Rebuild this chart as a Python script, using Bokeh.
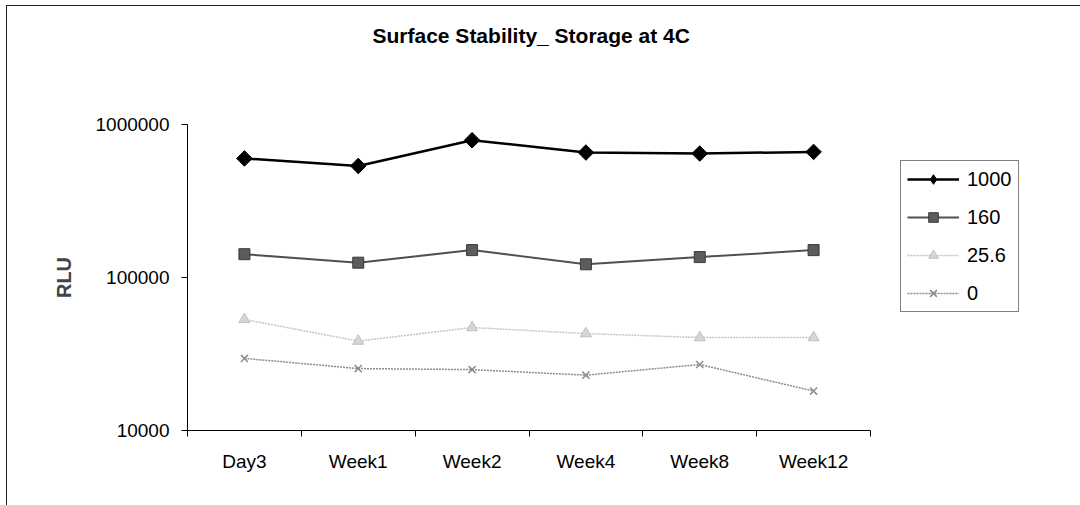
import math

from bokeh.plotting import figure
from bokeh.layouts import row, column
from bokeh.models import Range1d, FixedTicker, Legend, LegendItem, NumeralTickFormatter
from bokeh.embed import file_html
from bokeh.resources import INLINE

# Luminescence readings (RLU) for each spike level over storage time at 4C
timepoints = ["Day3", "Week1", "Week2", "Week4", "Week8", "Week12"]
rlu_1000 = [600000, 536000, 789000, 656000, 646000, 662000]
rlu_160 = [142000, 125000, 151000, 122000, 136000, 151000]
rlu_25_6 = [53200, 38400, 47100, 43000, 40500, 40500]
rlu_0 = [29600, 25400, 25000, 23000, 27000, 18100]
series_names = ["1000", "160", "25.6", "0"]
y_ticks = [10000, 100000, 1000000]
chart_title = "Surface Stability_ Storage at 4C"

n = len(timepoints)
# categories sit in the middle of each unit slot, ticks go on the slot edges
xc = [i + 0.5 for i in range(n)]

FONT = "Liberation Sans"
TOTAL_W = 1073
TITLE_H = 63
H = 499 - TITLE_H
PLOT_W = 883

# line / marker style per series
styles = [
    dict(line=dict(line_color="black", line_width=2.5),
         mark=dict(marker="square", size=11, angle=math.pi / 4,
                   fill_color="black", line_color="black")),
    dict(line=dict(line_color="#505050", line_width=2),
         mark=dict(marker="square", size=11, fill_color="#5c5c5c", line_color="#3a3a3a")),
    dict(line=dict(line_color="#c4c4c4", line_width=1.5, line_dash="2 1"),
         mark=dict(marker="triangle", size=11, fill_color="#d6d6d6", line_color="#c0c0c0")),
    dict(line=dict(line_color="#8c8c8c", line_width=1.5, line_dash="2 1"),
         mark=dict(marker="x", size=10, line_color="#8c8c8c", line_width=1.5)),
]
# legend swatches ignore marker rotation, so the first key uses a diamond glyph
legend_marks = [
    dict(marker="diamond", size=16, fill_color="black", line_color="black"),
    styles[1]["mark"], styles[2]["mark"], styles[3]["mark"],
]
series_values = [rlu_1000, rlu_160, rlu_25_6, rlu_0]


def blank_figure(width, height):
    f = figure(width=width, height=height,
               x_range=Range1d(0, 1), y_range=Range1d(0, 1),
               output_backend="svg", toolbar_location=None, min_border=0)
    f.axis.visible = False
    f.grid.visible = False
    f.outline_line_color = None
    return f


# title strip, title centred over the plot area
tf = blank_figure(TOTAL_W, TITLE_H)
tf.title.text = chart_title
tf.title.align = "left"
tf.title.offset = 365
tf.title.text_font = FONT
tf.title.text_font_size = "21px"
tf.title.text_font_style = "bold"
tf.title.text_color = "black"
tf.title.standoff = 31

# main plot
p = figure(
    width=PLOT_W, height=H,
    y_axis_type="log",
    x_range=Range1d(0, n), y_range=Range1d(y_ticks[0], y_ticks[-1]),
    output_backend="svg", toolbar_location=None,
    min_border_left=180, min_border_right=20,
    min_border_top=55, min_border_bottom=75,
)
p.outline_line_color = None
p.xgrid.visible = False
p.ygrid.visible = False

# y axis: plain integer labels at each decade
ya = p.yaxis[0]
ya.ticker = FixedTicker(ticks=y_ticks, minor_ticks=[])
ya.formatter = NumeralTickFormatter(format="0")
ya.axis_line_color = "black"
ya.major_tick_line_color = "black"
ya.major_tick_out = 6
ya.major_tick_in = 0
ya.major_label_standoff = 12
ya.major_label_text_font = FONT
ya.major_label_text_font_size = "19px"
ya.major_label_text_color = "black"
ya.axis_label = "RLU"
ya.axis_label_text_font = FONT
ya.axis_label_text_font_size = "20px"
ya.axis_label_text_font_style = "bold"
ya.axis_label_standoff = 18

# x axis: labels at slot centres, tick marks at slot boundaries
xa = p.xaxis[0]
xa.ticker = FixedTicker(ticks=xc, minor_ticks=list(range(n + 1)))
xa.major_label_overrides = {c: t for c, t in zip(xc, timepoints)}
xa.axis_line_color = "black"
xa.major_tick_line_color = None
xa.minor_tick_line_color = "black"
xa.minor_tick_out = 6
xa.minor_tick_in = 0
xa.major_label_standoff = 14
xa.major_label_text_font = FONT
xa.major_label_text_font_size = "19px"
xa.major_label_text_color = "black"

for vals, st in zip(series_values, styles):
    p.line(xc, vals, **st["line"])
    p.scatter(xc, vals, **st["mark"])

# legend panel to the right of the plot area (sample glyphs sit off-canvas)
lf = blank_figure(TOTAL_W - PLOT_W, H)
items = []
for name, st, lm in zip(series_names, styles, legend_marks):
    rl = lf.line([2, 3], [2, 3], **st["line"])
    rm = lf.scatter([2], [2], **lm)
    items.append(LegendItem(label=name, renderers=[rl, rm]))

legend = Legend(
    items=items,
    location=(10, 118),
    border_line_color="black", border_line_width=1,
    background_fill_color="white", background_fill_alpha=1,
    label_text_font=FONT, label_text_font_size="20px", label_text_color="black",
    glyph_width=52, glyph_height=24, label_height=24,
    spacing=14, padding=6, margin=0, label_standoff=8,
)
lf.add_layout(legend, "center")

layout = column(
    tf, row(p, lf, spacing=0), spacing=0,
    margin=(5, 0, 0, 6),
    styles={"border-left": "1px solid #222", "border-top": "1px solid #222"},
)

open("out.html", "w").write(file_html(layout, INLINE))
